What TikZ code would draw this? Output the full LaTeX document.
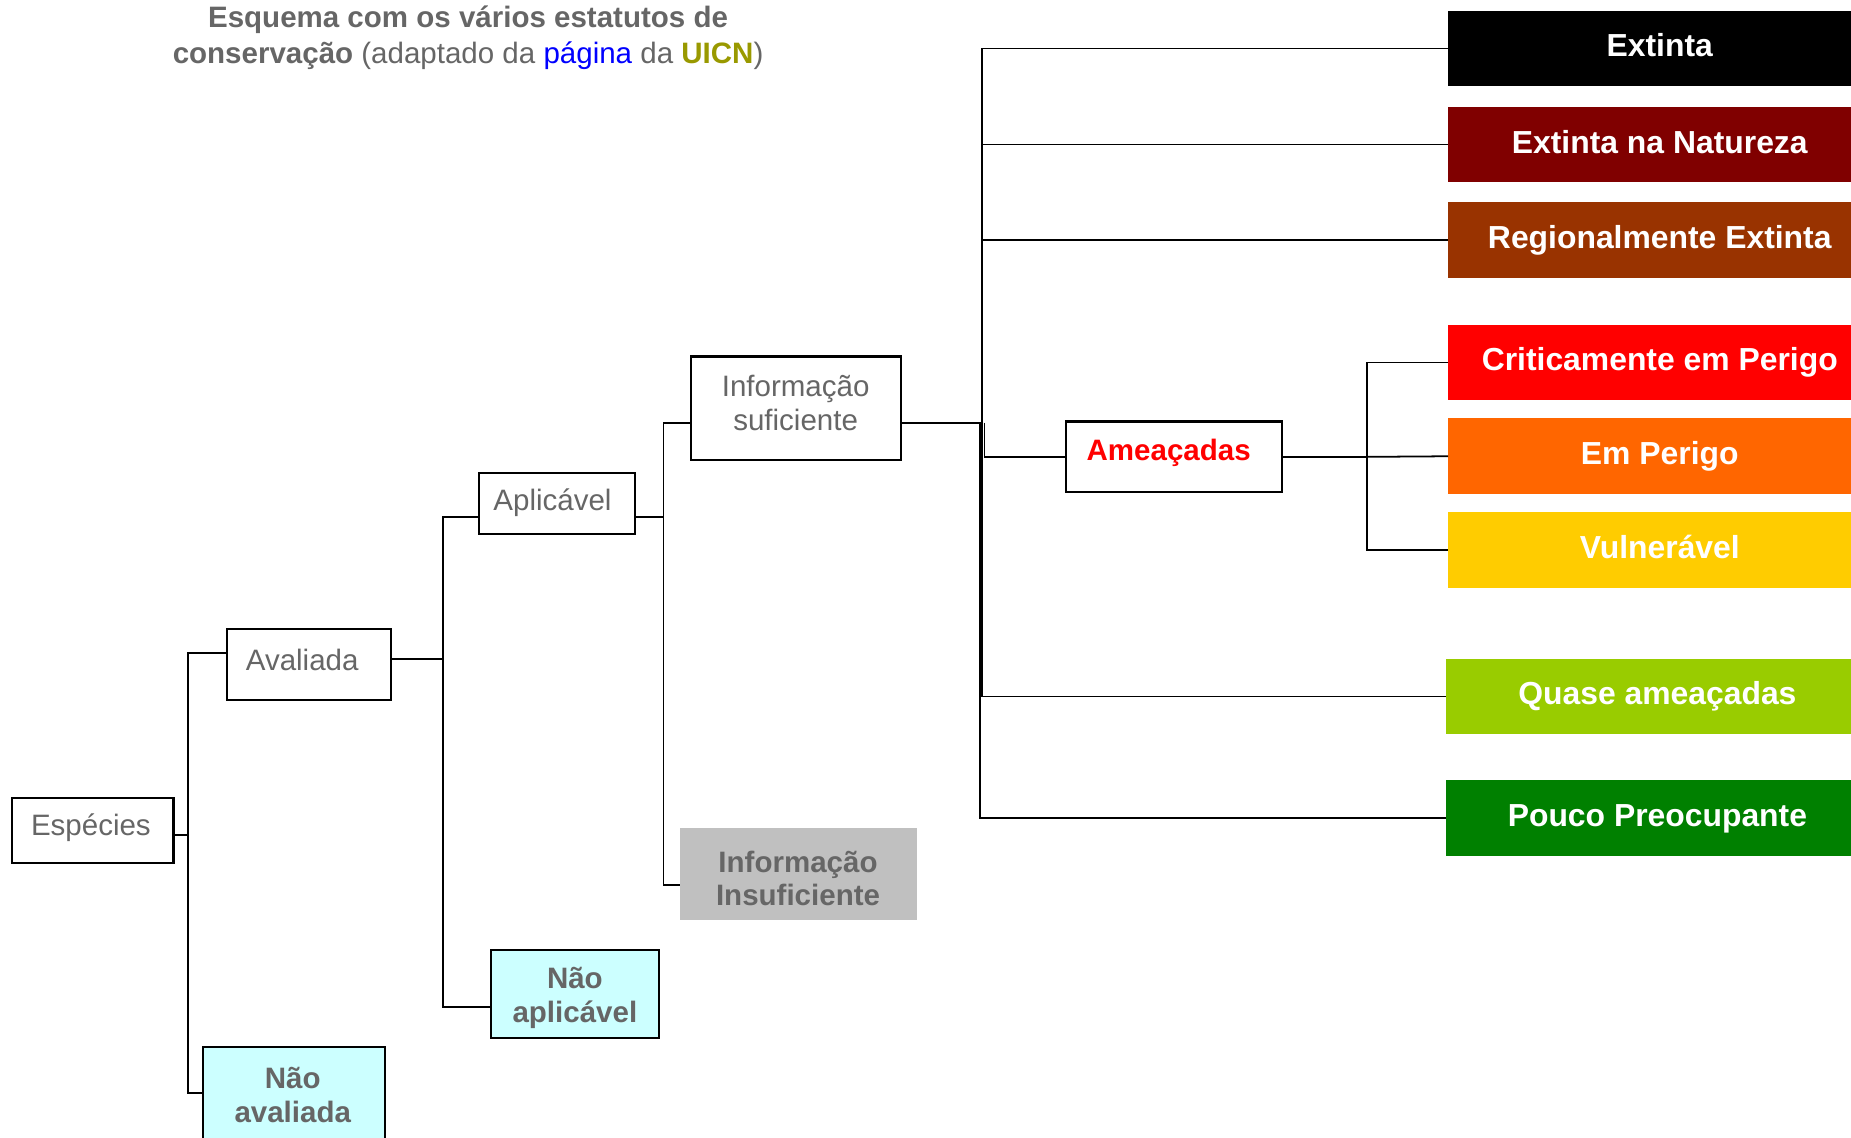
\documentclass[tikz,border=0pt]{standalone}
\usepackage{fontspec}
\setmainfont{Liberation Sans}
\definecolor{txtgray}{HTML}{666666}
\definecolor{linkblue}{HTML}{0000FF}
\definecolor{olive}{HTML}{999900}
\definecolor{cEX}{HTML}{000000}
\definecolor{cEW}{HTML}{800000}
\definecolor{cRE}{HTML}{993300}
\definecolor{cCR}{HTML}{FF0000}
\definecolor{cEN}{HTML}{FF6600}
\definecolor{cVU}{HTML}{FFCC00}
\definecolor{cNT}{HTML}{99CC00}
\definecolor{cLC}{HTML}{008000}
\definecolor{insgray}{HTML}{C0C0C0}
\definecolor{lightcyan}{HTML}{CCFFFF}
\tikzset{
  frame/.style={draw=black, line width=1.8pt, fill=white, inner sep=0pt, rectangle},
  plainbox/.style={inner sep=0pt, rectangle},
  lbl/.style={text=txtgray, font=\fontsize{25}{28.5}\selectfont, align=center, inner sep=0pt},
  blbl/.style={text=txtgray, font=\bfseries\fontsize{25}{28.5}\selectfont, align=center, inner sep=0pt},
  cat/.style={plainbox, minimum width=358pt, minimum height=64pt, text=white,
    text height=19.3pt, text depth=5pt, font=\bfseries\fontsize{27}{32}\selectfont},
  conn/.style={draw=black, line width=1.5pt}
}
\begin{document}
\begin{tikzpicture}[x=1pt,y=-1pt]
\useasboundingbox (0,0) rectangle (1568,964);
\clip (0,0) rectangle (1568,964);

% title
\node[align=center, text=txtgray, font=\fontsize{25}{30}\selectfont, inner sep=0pt] (title) at (396.5,32)
  {\textbf{Esquema com os vários estatutos de}\\
   \textbf{conservação} (adaptado da \textcolor{linkblue}{página} da \textcolor{olive}{\textbf{UICN}})};

% framed boxes
\node[frame, minimum width=137pt, minimum height=55pt] (esp) at (78.5,703.5) {};
\node[lbl] (tesp) at (77,701.5) {Espécies};
\node[frame, minimum width=139pt, minimum height=60pt] (ava) at (261.5,563) {};
\node[lbl] (tava) at (256,559) {Avaliada};
\node[frame, minimum width=132pt, minimum height=51pt] (apl) at (472,426.5) {};
\node[lbl] (tapl) at (468,425.5) {Aplicável};
\node[frame, minimum width=178pt, minimum height=88pt] (isuf) at (674,346) {};
\node[lbl] (tisuf) at (674,341.5) {Informação\\suficiente};
\node[frame, minimum width=183pt, minimum height=60pt] (amea) at (994.5,387) {};
\node[blbl, text=cCR] (tamea) at (990,383.5) {Ameaçadas};

% filled boxes
\node[plainbox, fill=insgray, minimum width=201pt, minimum height=78pt] (iins) at (676.5,740) {};
\node[blbl] (tiins) at (676,744) {Informação\\Insuficiente};
\node[frame, fill=lightcyan, minimum width=142pt, minimum height=74pt] (napl) at (487,842) {};
\node[blbl] (tnapl) at (487,845.5) {Não\\aplicável};
\node[frame, fill=lightcyan, minimum width=154pt, minimum height=88pt] (nava) at (249,931) {};
\node[blbl] (tnava) at (248,927.5) {Não\\avaliada};

% category boxes
\node[cat, fill=cEX] (ex) at (1406,41) {Extinta};
\node[cat, fill=cEW] (ew) at (1406,122.5) {Extinta na Natureza};
\node[cat, fill=cRE] (re) at (1406,203.5) {Regionalmente Extinta};
\node[cat, fill=cCR] (cr) at (1406,307) {Criticamente em Perigo};
\node[cat, fill=cEN] (en) at (1406,386.5) {Em Perigo};
\node[cat, fill=cVU] (vu) at (1406,466) {Vulnerável};
\node[cat, fill=cNT] (nt) at (1404,590) {Quase ameaçadas};
\node[cat, fill=cLC] (lc) at (1404,693) {Pouco Preocupante};

% junction coordinates
\coordinate (j1) at (159,707);
\coordinate (j2) at (375,558);
\coordinate (j3) at (562,438);
\coordinate (j4) at (832,358);
\coordinate (j5) at (1158,387);

% connectors
\draw[conn] ([yshift=-3.5pt]esp.east) -- (j1);
\draw[conn] ([yshift=10pt]ava.west) -| (j1) |- ([yshift=5pt]nava.west);

\draw[conn] ([yshift=5pt]ava.east) -- (j2);
\draw[conn] ([yshift=-11.5pt]apl.west) -| (j2) |- ([yshift=-11pt]napl.west);

\draw[conn] ([yshift=-11.5pt]apl.east) -- (j3);
\draw[conn] ([yshift=-12pt]isuf.west) -| (j3) |- ([yshift=-10pt]iins.west);

\draw[conn] ([yshift=-12pt]isuf.east) -- (j4);
\draw[conn] (ex.west) -| (j4 |- nt.west) -- (nt.west);
\draw[conn] (ew.west) -- (ew.west -| j4);
\draw[conn] (re.west) -- (re.west -| j4);
\draw[conn] ([xshift=2pt]j4) |- (amea.west);
\draw[conn] ([xshift=-2pt]j4) |- (lc.west);

\draw[conn] (amea.east) -- (j5);
\draw[conn] (cr.west) -| (j5) |- (vu.west);
\draw[conn] (j5) -- (en.west);
\end{tikzpicture}
\end{document}
